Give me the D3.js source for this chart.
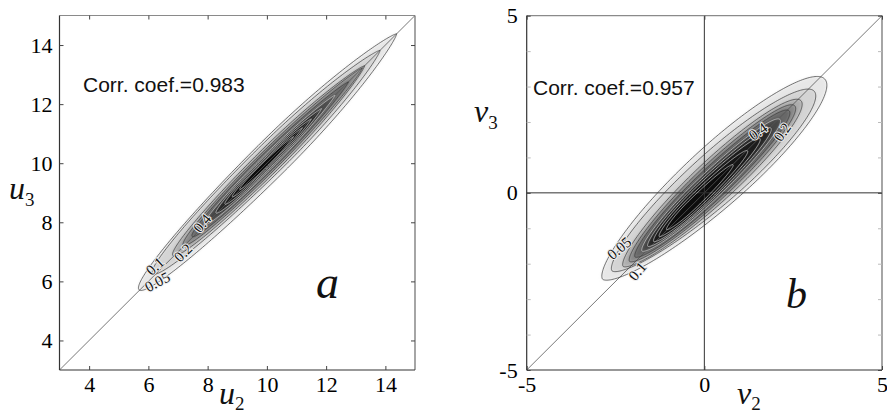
<!DOCTYPE html>
<html><head><meta charset="utf-8">
<script src="https://cdn.jsdelivr.net/npm/d3@7"></script>
<style>
html,body{margin:0;padding:0;background:#fff;}
svg{display:block;}
</style></head><body>
<svg id="chart" width="887" height="415"></svg>
<script>
// ================= DATA =================
const levels = [0.05,0.1,0.2,0.3,0.4,0.5,0.6,0.7,0.8,0.9];

// Panel a : u2 (x) vs u3 (y); contours described along the diagonal u2=u3
const aDomain = [3,15];
const aTicks = [4,6,8,10,12,14];
const aLow       = [5.70,6.20,6.85,7.20,7.50,7.90,8.30,8.60,8.85,9.10];
const aHigh      = [14.38,13.82,13.30,13.22,12.75,12.30,11.85,11.50,11.20,10.90];
const aPeak      = [10.2,10.2,10.1,10.0,10.0,9.9,9.9,9.9,9.9,9.9];
const aHalfWidth = [0.62,0.52,0.42,0.35,0.29,0.24,0.20,0.16,0.12,0.09];
const aShiftLow  = [0.02,0.08,0.03,0.03,0.03,0.02,0.02,0.02,0.02,0.02];
const aShiftHigh = [0,0,0,0,0,0,0,0,0,0];
const aLabelText = ["0.05","0.1","0.2","0.4"];
const aLabelX    = [6.30,6.22,7.17,7.81];
const aLabelY    = [5.99,6.52,6.97,7.97];
const aLabelRot  = [-28,-42,-45,-50];
const aCorr = "Corr. coef.=0.983";

// Panel b : v2 (x) vs v3 (y)
const bDomain = [-5,5];
const bTicks = [-5,0,5];
const bMinorTicks = [-4,-3,-2,-1,1,2,3,4];
const bLow       = [-2.65,-2.40,-2.18,-2.02,-1.88,-1.70,-1.55,-1.40,-1.25,-1.05];
const bHigh      = [3.30,2.98,2.66,2.50,2.35,2.10,1.85,1.55,1.20,0.80];
const bPeak      = [0.6,0.5,0.4,0.3,0.2,0.1,0.0,-0.1,-0.2,-0.3];
const bHalfWidth = [0.85,0.72,0.58,0.50,0.43,0.37,0.31,0.26,0.20,0.14];
const bShiftLow  = [0.30,0.28,0.15,0.12,0.10,0.08,0.06,0.04,0.03,0.02];
const bShiftHigh = [-0.12,-0.15,-0.08,-0.06,-0.05,-0.04,-0.03,-0.02,-0.02,-0.01];
const bLabelText = ["0.05","0.1","0.4","0.2"];
const bLabelX    = [-2.40,-1.89,1.51,2.19];
const bLabelY    = [-1.56,-2.21,1.74,1.72];
const bLabelRot  = [-40,-50,-35,-55];
const bCorr = "Corr. coef.=0.957";

// ================= DRAW =================
const SERIF = "'Liberation Serif', 'Times New Roman', serif";
const SANS = "'Liberation Sans', Arial, sans-serif";
const svg = d3.select("#chart");
const defs = svg.append("defs");
defs.append("filter").attr("id","soft").attr("x","-20%").attr("y","-20%").attr("width","140%").attr("height","140%")
  .append("feGaussianBlur").attr("stdDeviation",1.6);

const fillScale = d3.scaleLinear().domain([0,0.1,0.3,0.6,1])
  .range(["#fafafa","#d4d4d4","#888888","#262626","#000000"]);

function eggPoints(t0,t1,tp,w,s0,s1,pl,pu){
  const N = 120;
  const ts = d3.range(N+1).map(i => t0 + (t1-t0)*(1-Math.cos(Math.PI*i/N))/2);
  const half = t => {
    const x = t < tp ? (tp-t)/(tp-t0) : (t-tp)/(t1-tp);
    const p = t < tp ? pl : pu;
    return w*Math.pow(Math.max(0,1-x*x),p);
  };
  const shift = t => s0 + (s1-s0)*(t-t0)/(t1-t0);
  const side = sg => ts.map(t => { const d = shift(t) + sg*half(t); return [t - d/Math.SQRT2, t + d/Math.SQRT2]; });
  return side(1).concat(side(-1).reverse());
}

function panel(o){
  const x = d3.scaleLinear().domain(o.domain).range([o.x0,o.x1]);
  const y = d3.scaleLinear().domain(o.domain).range([o.y1,o.y0]);
  const g = svg.append("g");
  const clipId = "clip"+o.id;
  defs.append("clipPath").attr("id",clipId).append("rect")
    .attr("x",o.x0).attr("y",o.y0).attr("width",o.x1-o.x0).attr("height",o.y1-o.y0);

  const line = d3.line().x(d=>x(d[0])).y(d=>y(d[1])).curve(d3.curveLinearClosed);
  const shapes = levels.map((lv,i)=>({lv, pts: eggPoints(o.low[i],o.high[i],o.peak[i],o.hw[i],o.sLow[i],o.sHigh[i],o.pl,o.pu)}));

  const plot = g.append("g").attr("clip-path",`url(#${clipId})`);
  plot.append("g").attr("filter","url(#soft)")
    .selectAll("path").data(shapes).join("path")
    .attr("d",d=>line(d.pts)).attr("fill",d=>fillScale(d.lv)).attr("stroke","none");

  // diagonal
  plot.append("line").attr("x1",x(o.domain[0])).attr("y1",y(o.domain[0]))
    .attr("x2",x(o.domain[1])).attr("y2",y(o.domain[1]))
    .attr("stroke","#555").attr("stroke-width",0.8);

  if (o.cross){
    plot.append("line").attr("x1",x(0)).attr("x2",x(0)).attr("y1",o.y0).attr("y2",o.y1).attr("stroke","#333").attr("stroke-width",1);
    plot.append("line").attr("y1",y(0)).attr("y2",y(0)).attr("x1",o.x0).attr("x2",o.x1).attr("stroke","#333").attr("stroke-width",1);
  }

  plot.append("g").selectAll("path").data(shapes).join("path")
    .attr("d",d=>line(d.pts)).attr("fill","none")
    .attr("stroke",d=>d.lv<=0.4?"#3a3a3a":"#d6d6d6").attr("stroke-width",0.7);

  // contour labels
  g.append("g").selectAll("text").data(o.labText).join("text")
    .attr("transform",(d,i)=>`translate(${x(o.labX[i])},${y(o.labY[i])}) rotate(${o.labRot[i]})`)
    .attr("text-anchor","middle").attr("dy","0.35em")
    .style("font-family",SERIF).style("font-size","15px")
    .attr("fill","#111").attr("stroke","#eeeeee").attr("stroke-width",2).attr("paint-order","stroke")
    .text(d=>d);

  // frame
  const fr = g.append("g");
  fr.append("line").attr("x1",o.x0).attr("x2",o.x1).attr("y1",o.y0).attr("y2",o.y0).attr("stroke","#8a8a8a").attr("stroke-width",1.2);
  fr.append("line").attr("x1",o.x1).attr("x2",o.x1).attr("y1",o.y0).attr("y2",o.y1).attr("stroke","#6a6a6a").attr("stroke-width",1.2);
  fr.append("line").attr("x1",o.x0).attr("x2",o.x0).attr("y1",o.y0).attr("y2",o.y1).attr("stroke","#333").attr("stroke-width",1.2);
  fr.append("line").attr("x1",o.x0).attr("x2",o.x1).attr("y1",o.y1).attr("y2",o.y1).attr("stroke","#333").attr("stroke-width",1.2);

  const fmt = d => String(d);
  const style = sel => { sel.select(".domain").remove();
    sel.attr("font-family",null).attr("font-size",null);
    sel.selectAll("text").style("font-family",SERIF).style("font-size","22px").attr("fill","#000");
    sel.selectAll("line").attr("stroke","#444"); };
  g.append("g").attr("transform",`translate(${o.x0},0)`)
    .call(d3.axisLeft(y).tickValues(o.ticks).tickSize(-4).tickPadding(o.padL).tickFormat(fmt)).call(style);
  g.append("g").attr("transform",`translate(0,${o.y1})`)
    .call(d3.axisBottom(x).tickValues(o.ticks).tickSize(-4).tickPadding(6).tickFormat(fmt)).call(style);
  g.append("g").attr("transform",`translate(${o.x1},0)`)
    .call(d3.axisRight(y).tickValues(o.ticks).tickSize(-4).tickFormat("")).call(style);
  g.append("g").attr("transform",`translate(0,${o.y0})`)
    .call(d3.axisTop(x).tickValues(o.ticks).tickSize(-4).tickFormat("")).call(style);
  if (o.minor){
    [[d3.axisLeft,o.x0],[d3.axisRight,o.x1]].forEach(([ax,px])=>{
      g.append("g").attr("transform",`translate(${px},0)`)
        .call(ax(y).tickValues(o.minor).tickSize(-4).tickFormat(""))
        .call(s=>{s.select(".domain").remove(); s.selectAll("line").attr("stroke","#bbb");});
    });
  }

  // correlation text
  g.append("text").attr("x",o.corrX).attr("y",o.corrY)
    .style("font-family",SANS).style("font-size","21px").attr("fill","#111")
    .text(o.corr);

  // panel letter
  g.append("text").attr("x",o.letX).attr("y",o.letY)
    .style("font-family",SERIF).style("font-style","italic").style("font-size",o.letSize+"px").attr("fill","#111")
    .text(o.letter);

  // axis titles
  const t1 = g.append("text").attr("x",o.xlabX).attr("y",o.xlabY).attr("fill","#111").style("font-family",SERIF);
  t1.append("tspan").style("font-style","italic").style("font-size","32px").text(o.xName);
  t1.append("tspan").style("font-size","19px").attr("dy",6).text(o.xSub);
  const t2 = g.append("text").attr("x",o.ylabX).attr("y",o.ylabY).attr("fill","#111").style("font-family",SERIF);
  t2.append("tspan").style("font-style","italic").style("font-size","32px").text(o.yName);
  t2.append("tspan").style("font-size","19px").attr("dy",7).text(o.ySub);
}

panel({id:"a", domain:aDomain, ticks:aTicks, x0:59.5, x1:415, y0:15.5, y1:370,
  low:aLow, high:aHigh, peak:aPeak, hw:aHalfWidth, sLow:aShiftLow, sHigh:aShiftHigh, pl:0.5, pu:0.75,
  labText:aLabelText, labX:aLabelX, labY:aLabelY, labRot:aLabelRot,
  corr:aCorr, corrX:83, corrY:92, letter:"a", letX:316, letY:298, letSize:46,
  xName:"u", xSub:"2", xlabX:219, xlabY:404, yName:"u", ySub:"3", ylabX:9, ylabY:199, padL:7, cross:false});

panel({id:"b", domain:bDomain, ticks:bTicks, minor:bMinorTicks, x0:526.7, x1:882, y0:15.7, y1:370,
  low:bLow, high:bHigh, peak:bPeak, hw:bHalfWidth, sLow:bShiftLow, sHigh:bShiftHigh, pl:0.6, pu:0.5,
  labText:bLabelText, labX:bLabelX, labY:bLabelY, labRot:bLabelRot,
  corr:bCorr, corrX:533, corrY:95, letter:"b", letX:786, letY:308, letSize:42,
  xName:"v", xSub:"2", xlabX:737, xlabY:404, yName:"v", ySub:"3", ylabX:474, ylabY:122, padL:9, cross:true});
</script>
</body></html>
